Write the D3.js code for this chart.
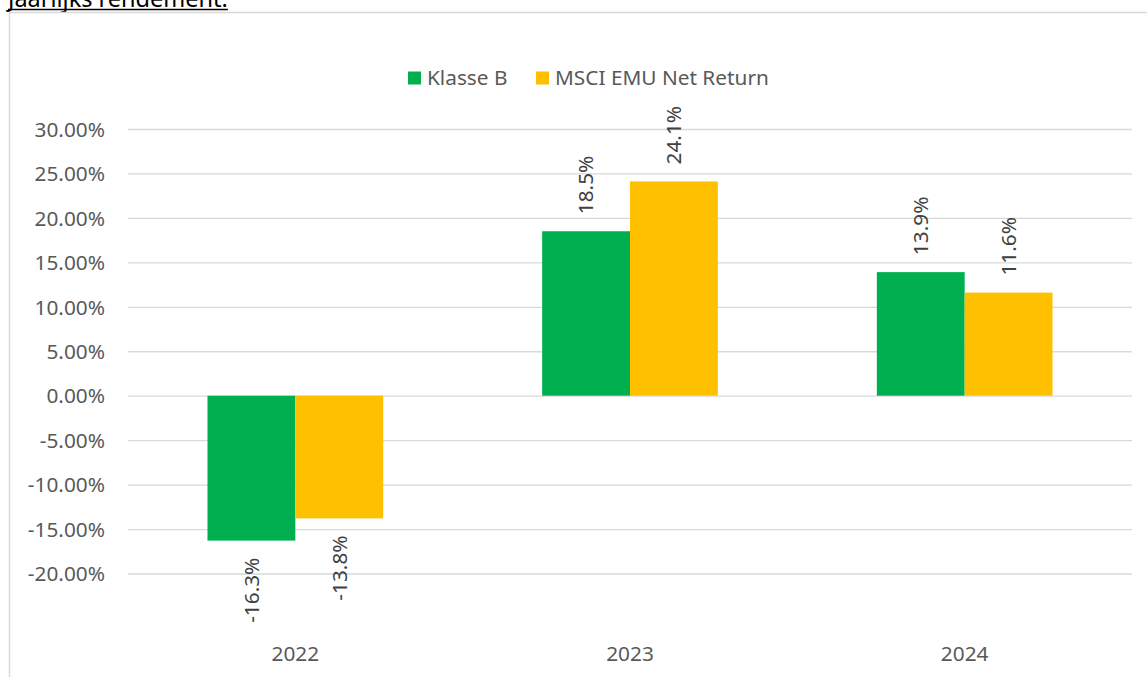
<!DOCTYPE html>
<html><head><meta charset="utf-8">
<script src="https://cdn.jsdelivr.net/npm/d3@7"></script>
<style>
html,body{margin:0;padding:0;background:#fff;}
svg{display:block;font-family:"Noto Sans",sans-serif;}
</style></head>
<body><svg id="c" width="1147" height="677"></svg>
<script>
const categories = ["2022","2023","2024"];
const seriesNames = ["Klasse B","MSCI EMU Net Return"];
const klasseB = [-16.3, 18.5, 13.9];
const msciEmu = [-13.8, 24.1, 11.6];
const yTicks = [30,25,20,15,10,5,0,-5,-10,-15,-20];
const colors = ["#00B050","#FFC000"];

const svg = d3.select("#c");
const FS = 20.8;

// title
const title = svg.append("text").attr("x",8).attr("y",7).attr("font-size",23.5)
  .attr("fill","#000").text("Jaarlijks rendement:");
const tw = title.node().getComputedTextLength();
svg.append("line").attr("x1",8).attr("x2",8+tw).attr("y1",9.5).attr("y2",9.5)
  .attr("stroke","#000").attr("stroke-width",1.5);

// frame
svg.append("path").attr("d",`M9.5,677 L9.5,12.5 L1147,12.5`).attr("fill","none")
  .attr("stroke","#d9d9d9").attr("stroke-width",1.5);

const x0 = d3.scaleBand().domain(categories).range([128,1132]).paddingInner(0.475).paddingOuter(0.2375);
const x1 = d3.scaleBand().domain(seriesNames).range([0,x0.bandwidth()]);
const y = d3.scaleLinear().domain([-20,30]).range([573.5,129]);

// gridlines
const yAxis = d3.axisLeft(y).tickValues(yTicks).tickSize(-(1132-128))
  .tickFormat(d=>d.toFixed(2)+"%").tickPadding(23);
const ga = svg.append("g").attr("transform","translate(128,0)").call(yAxis);
ga.select(".domain").remove();
ga.selectAll(".tick line").attr("stroke","#d9d9d9").attr("stroke-width",1.3);
ga.selectAll(".tick text").attr("fill","#595959").attr("font-size",FS)
  .attr("font-family","'Noto Sans',sans-serif").attr("dy","0.35em");

// bars
const data = categories.map((c,i)=>({c, vals:[klasseB[i], msciEmu[i]]}));
const groups = svg.append("g").selectAll("g").data(data).join("g")
  .attr("transform",d=>`translate(${x0(d.c)},0)`);
groups.selectAll("rect").data(d=>d.vals.map((v,j)=>({v,s:seriesNames[j],j})))
  .join("rect")
  .attr("x",d=>x1(d.s)).attr("width",x1.bandwidth())
  .attr("y",d=>Math.min(y(d.v),y(0))).attr("height",d=>Math.abs(y(d.v)-y(0)))
  .attr("fill",d=>colors[d.j]);

// data labels rotated
groups.selectAll("text.lbl").data(d=>d.vals.map((v,j)=>({v,s:seriesNames[j],j})))
  .join("text").attr("class","lbl")
  .attr("transform",d=>{
    const cx = x1(d.s)+x1.bandwidth()/2;
    const yy = d.v>=0 ? y(d.v)-17 : y(d.v)+17;
    return `translate(${cx},${yy}) rotate(-90)`;
  })
  .attr("text-anchor",d=>d.v>=0?"start":"end")
  .attr("dy","0.35em")
  .attr("font-size",FS).attr("fill","#404040")
  .text(d=>d.v.toFixed(1)+"%");

// x labels
svg.append("g").selectAll("text").data(categories).join("text")
  .attr("x",d=>x0(d)+x0.bandwidth()/2).attr("y",661)
  .attr("text-anchor","middle").attr("font-size",FS).attr("fill","#595959").text(d=>d);

// legend
const leg = svg.append("g");
const legX = [408,536];
seriesNames.forEach((n,i)=>{
  leg.append("rect").attr("x",legX[i]).attr("y",71.5).attr("width",13).attr("height",13).attr("fill",colors[i]);
  leg.append("text").attr("x",legX[i]+19).attr("y",84.5).attr("font-size",FS).attr("fill","#595959").text(n);
});
</script></body></html>
